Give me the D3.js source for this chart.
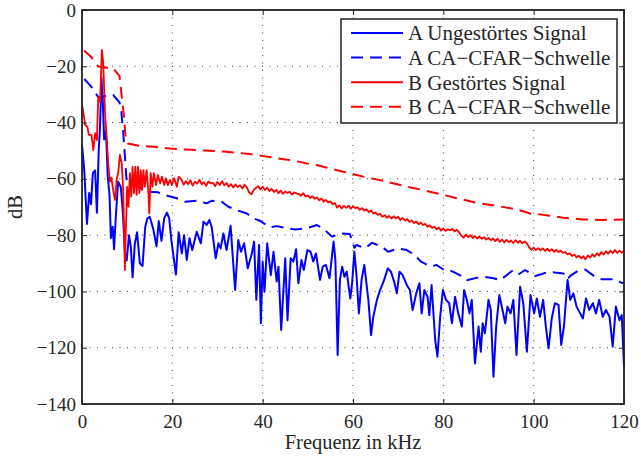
<!DOCTYPE html>
<html>
<head>
<meta charset="utf-8">
<script src="https://cdn.jsdelivr.net/npm/d3@7"></script>
<style>
  html, body { margin: 0; padding: 0; background: #fff; }
  svg { display: block; }
</style>
</head>
<body>
<script>
// tick values
const xTicks = [0, 20, 40, 60, 80, 100, 120];
const yTicks = [0, -20, -40, -60, -80, -100, -120, -140];

const legendLabels = ["A Ungestörtes Signal", "A CA\u2212CFAR\u2212Schwelle", "B Gestörtes Signal", "B CA\u2212CFAR\u2212Schwelle"];

// A: undisturbed signal [kHz, dB]
const signalA = [
  [0,-48],[0.5,-57],[1.1,-76],[1.6,-65],[2.0,-69],[2.4,-58],[2.9,-57],[3.3,-72],[3.7,-50],[4.0,-41],
  [4.3,-24],[4.6,-32],[4.9,-46],[5.3,-43],[5.7,-59],[6.1,-66],[6.4,-81],[6.8,-77],[7.1,-85],[7.5,-73],
  [8.0,-61],[8.6,-63],[9.0,-71],[9.5,-86],[9.9,-89],[10.4,-80],[10.8,-84],[11.2,-95],[11.7,-83],[12.2,-79],
  [12.8,-90],[13.4,-91],[14.0,-77],[14.5,-74],[15.0,-73.5],[15.8,-78],[16.5,-84],[17.0,-75],[17.6,-82],[18.2,-74],
  [18.8,-72],[19.3,-74],[19.8,-82],[20.3,-88],[20.8,-94],[21.4,-79],[22.1,-86.5],[22.6,-80],[23.2,-88.8],[23.8,-81.1],
  [24.4,-85.3],[25.4,-78.8],[26.3,-82.9],[26.9,-75.2],[27.6,-76.4],[28.2,-74.6],[28.7,-77],[29.6,-88.2],[30.2,-82.9],[30.7,-84.7],
  [31.3,-79.4],[32.0,-85.3],[32.9,-76.7],[33.9,-99.5],[34.6,-81.7],[35.2,-85.9],[35.9,-82.9],[36.7,-91.8],[37.6,-86.5],[38.1,-82.3],
  [38.6,-103],[39.2,-83.5],[39.6,-111.3],[40.0,-89.4],[40.4,-100.1],[41.0,-82.9],[41.8,-94.2],[42.4,-85.9],[43.1,-96.5],[43.5,-91.2],
  [44.1,-113.7],[45.0,-88.2],[45.5,-110.2],[46.2,-88.2],[46.8,-89.4],[47.4,-85],[47.9,-97.1],[48.6,-88.8],[49.1,-92.4],[49.9,-85.3],
  [50.6,-85.9],[51.2,-89.4],[51.8,-86.5],[52.7,-95.9],[53.3,-91.2],[54.0,-90.6],[54.8,-95.3],[55.7,-82.3],[56.1,-88.8],[56.6,-122.6],
  [57.1,-95.9],[57.6,-91.2],[58.1,-94.8],[58.6,-93],[59.4,-102.5],[59.8,-97.1],[60.3,-85.9],[60.8,-94.8],[61.3,-107.8],[61.9,-95.9],
  [62.5,-90.6],[63.4,-103],[64.0,-115.5],[64.5,-109],[65.3,-103],[66.0,-99.5],[66.9,-95.9],[67.7,-91.8],[68.4,-93],[69.1,-96.5],
  [69.7,-100.7],[70.3,-93],[71.0,-94.2],[71.9,-97.7],[72.6,-99.5],[73.2,-106.6],[74.0,-100.7],[74.7,-97.1],[75.2,-107.8],[75.8,-99.5],
  [76.5,-101.9],[76.9,-108.4],[77.4,-97.7],[78.2,-117.3],[78.7,-123.2],[79.3,-109],[79.9,-99.5],[80.6,-103],[81.3,-104.2],[81.9,-111.3],
  [82.6,-101.9],[83.3,-107.8],[84.1,-112.5],[84.6,-99.5],[85.2,-103],[85.8,-107.8],[86.3,-103],[87.0,-125.6],[87.8,-112.5],[88.3,-121.4],
  [88.7,-111.3],[89.2,-114.9],[90.0,-103],[90.5,-106.6],[91.1,-130.3],[91.7,-112.5],[92.4,-101.3],[93.1,-106.6],[93.7,-111.3],[94.2,-105.4],
  [94.9,-107.8],[95.5,-103],[96.2,-122.6],[97.0,-98.3],[97.7,-104.2],[98.5,-121.4],[99.3,-101.3],[100.1,-107.8],[100.7,-102.5],[101.4,-109],
  [102.1,-103],[102.7,-112.5],[103.3,-120.2],[104.0,-109.6],[104.7,-104.2],[105.5,-104.8],[106.1,-119],[106.7,-112.5],[107.5,-95.9],[108.1,-103],
  [108.8,-100.7],[109.5,-105.4],[110.3,-107.8],[110.9,-109.6],[111.6,-102.5],[112.3,-106.6],[113.1,-104.2],[113.8,-107.8],[114.5,-103],[115.3,-109],
  [116.0,-106.6],[116.8,-109],[117.5,-119.6],[118.2,-105.4],[119.0,-110.2],[119.5,-108.4],[120.0,-126.7]
];

// A: CA-CFAR threshold
const thresholdA = [
  [0.5,-24.5],[2.1,-27.3],[3.6,-31],[5.5,-30.5],[6.9,-30.2],[8.3,-32.8],[8.7,-36],[9.1,-43],[9.5,-52],[9.9,-61.3],
  [11.4,-61.9],[14.3,-64.5],[16.9,-64.8],[18.4,-65.8],[21,-66.9],[22.8,-68.1],[25.4,-67.8],[27.6,-68.7],[28.7,-67.8],[30.9,-68.1],
  [32.4,-69.9],[34.2,-71.1],[36.5,-72.3],[37.9,-74],[39.4,-74.9],[41.6,-77.2],[43.1,-76.8],[45.7,-77.6],[47.2,-78],[49.7,-77.6],
  [52,-76.4],[53.4,-77.6],[55.3,-80.5],[57.5,-79.4],[59.3,-79.6],[60.3,-84.5],[60.8,-83.5],[62.7,-84.7],[64.2,-82.7],[66.4,-84.1],
  [67.8,-85.9],[70,-84.7],[71.9,-85.3],[73.7,-87.1],[74.9,-89.2],[77.1,-91.2],[78.5,-90.6],[80.4,-92.6],[81.9,-92.8],[84.1,-94.6],
  [85.2,-96],[87.8,-95],[88.9,-94.8],[91.1,-95.3],[92.6,-96],[94.4,-93.7],[95.5,-92.4],[96.8,-93.8],[98.1,-92.4],[100.3,-94.5],
  [101.8,-93.8],[103.3,-93],[104.7,-93.3],[106.6,-93.6],[107.5,-95.7],[108.1,-94.5],[109.9,-92.6],[111.4,-92.2],[113.6,-94.8],[115.1,-95.7],
  [117.6,-95.7],[119.5,-96.9],[120,-97]
];

// B: disturbed signal, low band as pairs
const signalBLow = [
  [0,-34],[0.1,-34.4],[0.7,-40.9],[1.2,-41.5],[1.5,-44.4],[2.1,-44.4],[2.5,-49.8],[2.9,-43.8],[3.3,-46.2],[3.6,-30.8],
  [4.0,-32.6],[4.4,-14.2],[4.7,-18.9],[5.1,-36.7],[5.5,-46.2],[5.8,-54.5],[6.2,-61],[6.5,-59.6],[6.9,-64],[7.3,-67.5],
  [7.7,-59.9],[8.0,-58],[8.4,-51.5],[8.8,-54.5],[9.1,-62.8],[9.5,-92.4],[9.7,-78.2],[10.0,-62.8],[10.3,-69.9],[10.6,-58],
  [10.9,-66.3],[11.2,-55.7],[11.5,-65.1],[11.8,-55.7],[12.1,-65.7],[12.4,-55.7],[12.7,-65.1],[13.0,-56.9],[13.3,-64],[13.6,-56.9],
  [13.9,-62.8],[14.3,-56.9],[14.7,-65.1],[14.9,-72.3],[15.2,-58],[15.6,-62.8],[15.9,-58],[16.4,-62.2],[16.8,-58.6],[17.3,-61.6],
  [17.7,-59.2],[18.2,-62.2],[18.6,-59.8],[19.0,-62.2],[19.5,-60.4],[19.9,-62.2],[20.4,-59.8],[21.0,-62.8],[21.4,-59.2]
];

// B: disturbed signal from 22 kHz on, every 0.5 kHz
const signalBStart = 22;
const signalBStep = 0.5;
const signalBHigh = [
  -60.2,-62.1,-60.8,-61.9,-60.5,-62.4,-61.0,-61.7,-60.3,-62.0,-61.2,-62.5,-60.9,-61.6,-61.4,-62.6,-61.1,-62.2,-60.8,-62.3,
  -61.5,-62.8,-61.9,-63.1,-62.0,-62.9,-62.3,-63.4,-62.1,-63.0,-64.8,-65.5,-64.0,-63.2,-62.6,-63.8,-62.8,-64.0,-63.1,-64.3,
  -63.6,-64.7,-63.9,-65.1,-64.2,-65.3,-64.5,-65.0,-64.6,-65.6,-64.8,-65.2,-65.4,-66.0,-65.1,-66.3,-65.9,-66.8,-66.2,-67.1,
  -66.6,-67.6,-67.0,-68.1,-67.5,-68.4,-68.0,-69.0,-68.6,-70.2,-69.4,-70.5,-69.6,-70.3,-69.5,-70.6,-69.8,-70.4,-70.1,-71.0,
  -70.4,-71.3,-70.8,-71.8,-71.2,-72.3,-71.9,-72.8,-72.4,-73.5,-72.9,-73.8,-73.2,-74.1,-73.3,-74.0,-73.5,-74.6,-73.9,-74.8,
  -74.3,-75.3,-74.8,-75.7,-75.1,-76.1,-75.5,-76.4,-76.0,-77.0,-76.5,-77.4,-77.0,-77.9,-77.3,-78.4,-77.7,-78.5,-77.9,-78.3,
  -77.8,-78.7,-78.1,-79.0,-80.2,-80.9,-79.8,-80.7,-80.0,-81.0,-80.3,-81.2,-80.5,-81.3,-80.7,-81.6,-81.0,-81.8,-81.2,-82.1,
  -81.3,-82.4,-81.6,-82.6,-81.7,-82.5,-81.9,-82.8,-81.8,-82.7,-82.0,-82.9,-82.2,-83.0,-84.3,-85.2,-84.4,-85.3,-84.6,-85.4,
  -84.7,-85.6,-84.8,-85.7,-85.0,-85.9,-85.2,-86.0,-85.5,-86.3,-86.0,-86.8,-86.5,-87.4,-86.9,-87.9,-87.3,-88.2,-87.5,-88.6,
  -87.2,-88.0,-86.8,-87.6,-86.4,-87.3,-86.0,-86.9,-85.7,-86.6,-85.5,-86.4,-85.3,-86.3,-85.5,-86.2,-85.6
];

// B: CA-CFAR threshold
const thresholdB = [
  [0.5,-14.5],[2.1,-16.8],[3.6,-20.1],[5.5,-20.5],[6.9,-20.7],[8.3,-23.5],[8.8,-30.8],[9.3,-37.9],[9.7,-46.2],[10.1,-47.4],
  [12.8,-48.3],[15.8,-48.6],[19.5,-49.2],[23.2,-49.6],[26.9,-49.9],[31.3,-50.3],[34.2,-50.7],[37.2,-51.2],[40.9,-52.1],[44.6,-53],
  [46.8,-53.5],[49.7,-54.5],[51.9,-55.1],[54.9,-56.3],[57.8,-57.5],[60.8,-58.6],[63,-59.5],[66.7,-60.7],[70,-62],[72.6,-63],
  [75.6,-64],[80,-65.7],[83,-66.9],[87.4,-68.5],[91.8,-69.6],[96.2,-70.8],[99.2,-72.3],[102.1,-72.8],[106.6,-73.8],[111,-74.4],
  [115.4,-74.6],[120,-74.4]
];

const width = 641, height = 458;
const margin = {left: 82, right: 17, top: 10, bottom: 54};
const innerW = width - margin.left - margin.right;
const innerH = height - margin.top - margin.bottom;
const axisColor = "#222";
const textColor = "#262626";
const fontFamily = "'Liberation Serif', 'Times New Roman', serif";

const svg = d3.select("body").append("svg")
    .attr("width", width)
    .attr("height", height);

svg.append("rect").attr("width", width).attr("height", height).attr("fill", "#fff");

const g = svg.append("g")
    .attr("transform", `translate(${margin.left},${margin.top})`);

const x = d3.scaleLinear().domain([0, 120]).range([0, innerW]);
const y = d3.scaleLinear().domain([-140, 0]).range([innerH, 0]);

// dotted grid
g.append("g").selectAll("line")
    .data(xTicks.slice(1, -1))
    .enter().append("line")
    .attr("x1", d => x(d)).attr("x2", d => x(d))
    .attr("y1", 0).attr("y2", innerH)
    .attr("stroke", "#444").attr("stroke-width", 1)
    .attr("stroke-dasharray", "1,6.5");

g.append("g").selectAll("line")
    .data(yTicks.slice(1, -1))
    .enter().append("line")
    .attr("y1", d => y(d)).attr("y2", d => y(d))
    .attr("x1", 0).attr("x2", innerW)
    .attr("stroke", "#444").attr("stroke-width", 1)
    .attr("stroke-dasharray", "1,6.5");

// series
const line = d3.line().x(d => x(d[0])).y(d => y(d[1]));
const signalB = signalBLow.concat(signalBHigh.map((v, i) => [signalBStart + i * signalBStep, v]));

const series = [
  {data: signalA, color: "#0000ff", dash: null, w: 2},
  {data: thresholdA, color: "#0000ff", dash: "12,7", w: 2},
  {data: signalB, color: "#ff0000", dash: null, w: 1.8},
  {data: thresholdB, color: "#ff0000", dash: "12,7", w: 2}
];

series.forEach(s => {
    g.append("path")
        .datum(s.data)
        .attr("d", line)
        .attr("fill", "none")
        .attr("stroke", s.color)
        .attr("stroke-width", s.w)
        .attr("stroke-linejoin", "round")
        .attr("stroke-dasharray", s.dash);
});

// axes, ticks pointing inwards on all four sides
function styleAxis(sel) {
    sel.select(".domain").remove();
    sel.selectAll(".tick line").attr("stroke", axisColor).attr("stroke-width", 1);
    sel.selectAll(".tick text")
        .attr("fill", textColor)
        .style("font-family", fontFamily)
        .style("font-size", "19px");
}

g.append("g")
    .attr("transform", `translate(0,${innerH})`)
    .call(d3.axisBottom(x).tickValues(xTicks).tickSize(-5).tickPadding(11))
    .call(styleAxis);

g.append("g")
    .call(d3.axisLeft(y).tickValues(yTicks).tickSize(-5).tickPadding(6))
    .call(styleAxis);

g.append("g")
    .call(d3.axisTop(x).tickValues(xTicks).tickSize(-5).tickFormat(""))
    .call(styleAxis);

g.append("g")
    .attr("transform", `translate(${innerW},0)`)
    .call(d3.axisRight(y).tickValues(yTicks).tickSize(-5).tickFormat(""))
    .call(styleAxis);

g.append("rect")
    .attr("width", innerW).attr("height", innerH)
    .attr("fill", "none")
    .attr("stroke", axisColor)
    .attr("stroke-width", 1.8);

// axis labels
svg.append("text")
    .attr("x", margin.left + innerW / 2)
    .attr("y", 449)
    .attr("text-anchor", "middle")
    .attr("fill", textColor)
    .style("font-family", fontFamily)
    .style("font-size", "20.5px")
    .text("Frequenz in kHz");

svg.append("text")
    .attr("transform", `translate(22,${margin.top + innerH / 2}) rotate(-90)`)
    .attr("text-anchor", "middle")
    .attr("fill", textColor)
    .style("font-family", fontFamily)
    .style("font-size", "20.5px")
    .text("dB");

// legend
const legend = svg.append("g").attr("transform", "translate(341,19)");
legend.append("rect")
    .attr("width", 276).attr("height", 104)
    .attr("fill", "#fff")
    .attr("stroke", axisColor)
    .attr("stroke-width", 1.5);

const item = legend.selectAll("g.item")
    .data(series)
    .enter().append("g")
    .attr("class", "item")
    .attr("transform", (d, i) => `translate(0,${14 + i * 24.6})`);

item.append("line")
    .attr("x1", 10).attr("x2", 62)
    .attr("stroke", d => d.color)
    .attr("stroke-width", 2)
    .attr("stroke-dasharray", d => d.dash);

item.append("text")
    .attr("x", 67)
    .attr("dy", "0.35em")
    .attr("fill", textColor)
    .style("font-family", fontFamily)
    .style("font-size", "21px")
    .text((d, i) => legendLabels[i]);
</script>
</body>
</html>
